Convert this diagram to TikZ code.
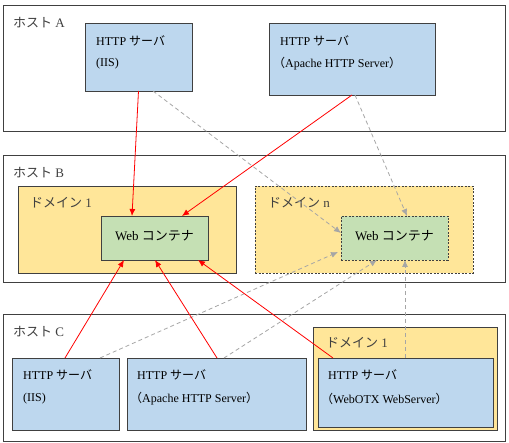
\documentclass[tikz,border=0pt]{standalone}
\usepackage{fontspec}
\setmainfont{Liberation Serif}
\newfontfamily\jp{Noto Sans CJK JP}
\usetikzlibrary{arrows.meta,calc,shadows}
\definecolor{hostline}{HTML}{404040}
\definecolor{srvfill}{HTML}{BDD7EE}
\definecolor{domfill}{HTML}{FFE699}
\definecolor{wcfill}{HTML}{C5E0B4}
\definecolor{dgray}{HTML}{A6A6A6}
\definecolor{txtgray}{HTML}{404040}
\tikzset{
  box/.style={anchor=north west,inner sep=0pt,outer sep=0pt,draw=hostline,line width=0.8pt},
  hostbox/.style={box,fill=white,drop shadow={shadow xshift=1pt,shadow yshift=-1pt,fill=gray!70,opacity=1}},
  srvbox/.style={box,fill=srvfill,drop shadow={shadow xshift=1pt,shadow yshift=-1pt,fill=gray!70,opacity=1}},
  dombox/.style={box,fill=domfill,drop shadow={shadow xshift=1pt,shadow yshift=-1pt,fill=gray!70,opacity=1}},
  domdash/.style={box,fill=domfill,dashed,dash pattern=on 2pt off 1.5pt},
  wcbox/.style={box,fill=wcfill,drop shadow={shadow xshift=1pt,shadow yshift=-1pt,fill=gray!70,opacity=1}},
  wcdash/.style={box,fill=wcfill,dashed,dash pattern=on 2pt off 1.5pt},
  lbl/.style={anchor=west,inner sep=0pt,font=\fontsize{13}{15}\selectfont,text=txtgray},
  stxt/.style={anchor=west,inner sep=0pt,font=\fontsize{12}{14}\selectfont},
  wctxt/.style={anchor=center,inner sep=0pt,font=\fontsize{13}{15}\selectfont},
  redarr/.style={draw=red,line width=0.8pt,-{Latex[length=7pt,width=6pt]}},
  grayarr/.style={draw=dgray,line width=0.8pt,dash pattern=on 4pt off 3pt,-{Latex[length=7pt,width=6pt]}},
}
\begin{document}
\begin{tikzpicture}[x=1pt,y=-1pt]
\useasboundingbox (0,0) rectangle (509,443);
% hosts
\node[hostbox,minimum width=502pt,minimum height=126pt] (hA) at (3,5) {};
\node[hostbox,minimum width=502pt,minimum height=127pt] (hB) at (3,155) {};
\node[hostbox,minimum width=502pt,minimum height=127pt] (hC) at (3,314) {};
\node[lbl] (lA) at (13,23) {{\jp ホスト} A};
\node[lbl] (lB) at (13,173) {{\jp ホスト} B};
\node[lbl] (lC) at (13,332) {{\jp ホスト} C};
% host A servers
\node[srvbox,minimum width=107pt,minimum height=68pt] (iisA) at (85,23) {};
\node[srvbox,minimum width=166pt,minimum height=72pt] (apA) at (269,23) {};
\node[stxt] (iisA1) at ($(iisA.north west)+(11,18)$) {HTTP {\jp サーバ}};
\node[stxt] (iisA2) at ($(iisA.north west)+(11,41)$) {(IIS)};
\node[stxt] (apA1) at ($(apA.north west)+(11,18)$) {HTTP {\jp サーバ}};
\node[stxt] (apA2) at ($(apA.north west)+(4,41)$) {{\jp （}Apache HTTP Server{\jp ）}};
% host B domains
\node[dombox,minimum width=218pt,minimum height=87pt] (d1) at (18,186) {};
\node[domdash,minimum width=218pt,minimum height=87pt] (dn) at (255,186) {};
\node[lbl] (ld1) at ($(d1.north west)+(12,17)$) {{\jp ドメイン} 1};
\node[lbl] (ldn) at ($(dn.north west)+(13,17)$) {{\jp ドメイン} n};
\node[wcbox,minimum width=107pt,minimum height=44pt] (wc1) at (101,216) {};
\node[wcdash,minimum width=107pt,minimum height=44pt] (wcn) at (341,216) {};
\node[wctxt] (wc1t) at ($(wc1.center)+(0,-2)$) {Web {\jp コンテナ}};
\node[wctxt] (wcnt) at ($(wcn.center)+(0,-2)$) {Web {\jp コンテナ}};
% host C
\node[dombox,minimum width=184pt,minimum height=103pt] (dc) at (313,327) {};
\node[lbl] (ldc) at ($(dc.north west)+(13,16)$) {{\jp ドメイン} 1};
\node[srvbox,minimum width=107pt,minimum height=72pt] (iisC) at (12,358) {};
\node[srvbox,minimum width=179pt,minimum height=72pt] (apC) at (127,358) {};
\node[srvbox,minimum width=175pt,minimum height=69pt] (wotx) at (318,358) {};
\node[stxt] (iisC1) at ($(iisC.north west)+(11,17)$) {HTTP {\jp サーバ}};
\node[stxt] (iisC2) at ($(iisC.north west)+(11,41)$) {(IIS)};
\node[stxt] (apC1) at ($(apC.north west)+(10,17)$) {HTTP {\jp サーバ}};
\node[stxt] (apC2) at ($(apC.north west)+(3,41)$) {{\jp （}Apache HTTP Server{\jp ）}};
\node[stxt] (wo1) at ($(wotx.north west)+(10,17)$) {HTTP {\jp サーバ}};
\node[stxt] (wo2) at ($(wotx.north west)+(3,41)$) {{\jp （}WebOTX WebServer{\jp ）}};
% gray dashed connectors
\draw[grayarr] ($(iisA.south west)+(68,0)$) -- ($(wcn.north west)+(0,17)$);
\draw[grayarr] ($(apA.south west)+(86,0)$) -- ($(wcn.north west)+(66,0)$);
\draw[grayarr] ($(iisC.north west)+(88,0)$) -- ($(wcn.south west)+(-3,-8)$);
\draw[grayarr] ($(apC.north west)+(97,0)$) -- ($(wcn.south west)+(36,0)$);
\draw[grayarr] ($(wotx.north west)+(87,0)$) -- ($(wcn.south west)+(64,0)$);
% red connectors
\draw[redarr] (iisA.south) -- ($(wc1.north west)+(31,0)$);
\draw[redarr] (apA.south) -- ($(wc1.north west)+(81,0)$);
\draw[redarr] ($(iisC.north west)+(53,0)$) -- ($(wc1.south west)+(23,0)$);
\draw[redarr] ($(apC.north west)+(90,0)$) -- ($(wc1.south west)+(54,0)$);
\draw[redarr] ($(wotx.north west)+(15,0)$) -- ($(wc1.south west)+(97,0)$);
\end{tikzpicture}
\end{document}
